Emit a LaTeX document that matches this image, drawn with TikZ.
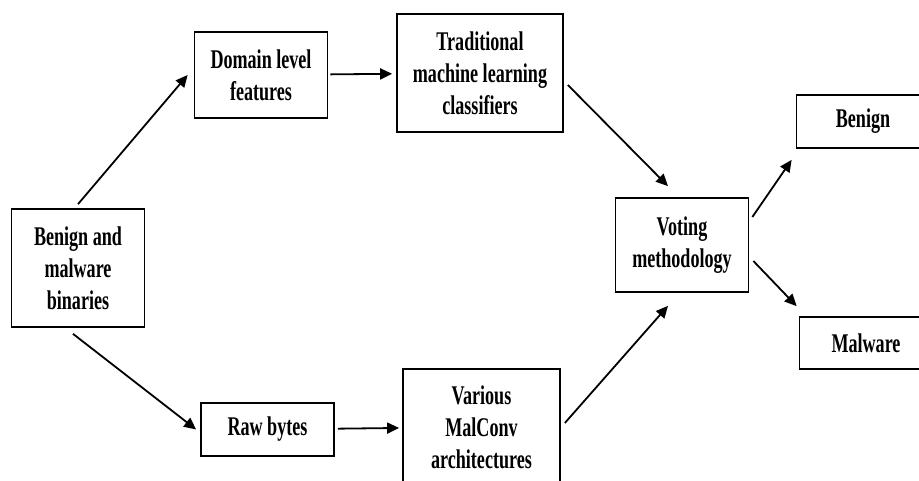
\documentclass[tikz,border=0pt]{standalone}
\usepackage{fontspec}
\setmainfont{Liberation Serif}[FakeStretch=0.67]
\usetikzlibrary{arrows.meta}

\begin{document}
\begin{tikzpicture}[x=1pt, y=1pt, >={Triangle[length=12pt,width=11pt]}, node distance=219pt,
    box/.style={rectangle, draw, line width=1.7pt, align=center, minimum width=133pt, inner sep=4pt, font=\fontsize{27}{32}\selectfont\bfseries}]

        \useasboundingbox (0,0) rectangle (919,-481);
        \clip (0,0) rectangle (919,-481);

        \node[box, minimum height=118pt] (bin) at (78,-268) {Benign and\\malware\\binaries};

        \node[box, minimum height=86pt] (dom) [right of=bin, xshift=-36, yshift=193] {Domain level\\features};
        \node[box, minimum height=118pt, minimum width=166pt] (trad) [right of=dom, yshift=2] {Traditional\\machine learning\\classifiers};

        \node[box, minimum height=53pt] (raw) [right of=bin, xshift=-29.5, yshift=-161.5] {Raw bytes};
        \node[box, minimum height=116pt, minimum width=157pt] (mal) [right of=raw, xshift=-5, yshift=2.5] {Various\\MalConv\\architectures};

        \node[box, minimum height=94pt] (vote) [right of=trad, xshift=-17, yshift=-172] {Voting\\methodology};

        \node[box, minimum height=53pt] (ben) [right of=vote, xshift=-38, yshift=123.5] {Benign};
        \node[box, minimum height=52pt] (malw) [right of=vote, xshift=-35, yshift=-98] {Malware};

        \path[->, line width=1.8pt]
        ([yshift=4]bin.north) edge ([xshift=-6]dom.west)
        ([shift={(-5,-6)}]bin.south) edge ([xshift=-4]raw.west)

        (dom) edge[shorten >=4pt, shorten <=2pt] (trad)
        (raw) edge[shorten >=3pt, shorten <=3pt] (mal)

        ([shift={(4,-12)}]trad.east) edge ([shift={(-14,11)}]vote.north)
        ([shift={(4,4)}]mal.east) edge ([shift={(-14,-13)}]vote.south)

        ([shift={(3,28)}]vote.east) edge ([shift={(-4,-11)}]ben.south west)
        ([shift={(4,-16)}]vote.east) edge ([shift={(-2,10)}]malw.north west)
        ;
    \end{tikzpicture}
\end{document}
